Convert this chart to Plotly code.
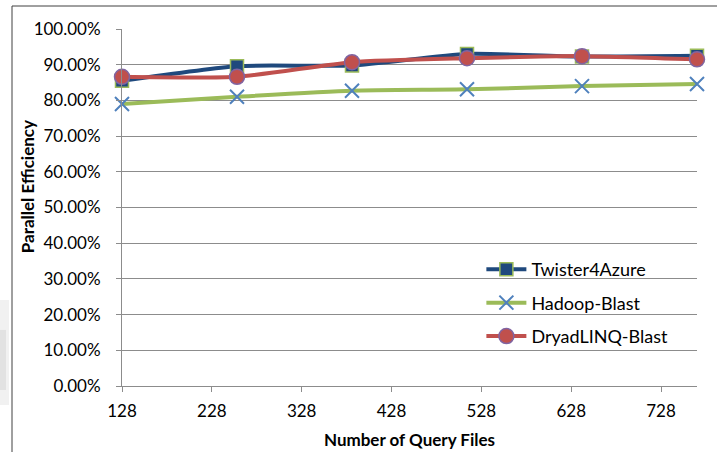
import plotly.graph_objects as go

query_files = [128, 256, 384, 512, 640, 768]
twister4azure = [0.855, 0.896, 0.898, 0.930, 0.923, 0.925]
hadoop_blast = [0.790, 0.810, 0.827, 0.831, 0.840, 0.846]
dryadlinq_blast = [0.866, 0.866, 0.907, 0.918, 0.924, 0.915]
x_ticks = [128, 228, 328, 428, 528, 628, 728]
y_ticks = [0, 0.1, 0.2, 0.3, 0.4, 0.5, 0.6, 0.7, 0.8, 0.9, 1.0]

FONT = "Lato"
FS = 17

fig = go.Figure()
fig.add_trace(go.Scatter(
    x=query_files, y=twister4azure, name="Twister4Azure", legendgroup="a",
    mode="lines+markers", line=dict(color="#1F497D", width=4, shape="spline", smoothing=0.6),
    marker=dict(symbol="square", size=13, color="#1F497D", line=dict(color="#9BBB59", width=1.5)),
    cliponaxis=False))
fig.add_trace(go.Scatter(
    x=query_files, y=hadoop_blast, name="Hadoop-Blast", legendgroup="b",
    mode="lines+markers", line=dict(color="#9BBB59", width=4, shape="spline", smoothing=0.6),
    marker=dict(symbol="x-thin", size=14, color="#4F81BD", line=dict(color="#4F81BD", width=2)),
    cliponaxis=False))
fig.add_trace(go.Scatter(
    x=query_files, y=dryadlinq_blast, name="DryadLINQ-Blast", legendgroup="c",
    mode="lines+markers", line=dict(color="#C0504D", width=4, shape="spline", smoothing=0.6),
    marker=dict(symbol="circle", size=15, color="#C0504D", line=dict(color="#8064A2", width=1.5)),
    cliponaxis=False))

fig.update_layout(
    width=717, height=452,
    margin=dict(l=122, r=20, t=29, b=66),
    paper_bgcolor="white", plot_bgcolor="white",
    font=dict(family=FONT, size=FS, color="black"),
    showlegend=True,
    legend=dict(x=0.625, y=0.378, xanchor="left", yanchor="top",
                bgcolor="rgba(0,0,0,0)", itemwidth=40, tracegroupgap=7,
                font=dict(family=FONT, size=FS + 1, color="black")),
    xaxis=dict(range=[128, 768], tickmode="array", tickvals=x_ticks,
               ticktext=[str(v) for v in x_ticks], automargin=False,
               showgrid=False, zeroline=False, showline=True, linecolor="#8C8C8C", linewidth=1,
               ticks="outside", ticklen=5, tickcolor="#8C8C8C",
               tickfont=dict(family=FONT, size=FS), ticklabelstandoff=5,
               title=dict(text="<b>Number of Query Files</b>", standoff=13,
                          font=dict(family=FONT, size=FS))),
    yaxis=dict(range=[0, 1.0], tickmode="array", tickvals=y_ticks, tickformat=".2%",
               automargin=False,
               showgrid=True, gridcolor="#8C8C8C", gridwidth=1,
               zeroline=False, showline=True, linecolor="#8C8C8C", linewidth=1,
               ticks="outside", ticklen=5, tickcolor="#8C8C8C",
               tickfont=dict(family=FONT, size=FS), ticklabelstandoff=12),
    annotations=[dict(text="<b>Parallel Efficiency</b>", xref="paper", yref="paper",
                      x=-0.1652, y=0.557, xanchor="center", yanchor="middle",
                      textangle=-90, showarrow=False,
                      font=dict(family=FONT, size=FS, color="black"))],
    shapes=[
        dict(type="rect", xref="paper", yref="paper", x0=-0.2122, y0=-0.053, x1=-0.1965, y1=0.241,
             line=dict(width=0), fillcolor="#f1f1f1", layer="below"),
        dict(type="rect", xref="paper", yref="paper", x0=-0.2122, y0=-0.0112, x1=-0.2017, y1=0.157,
             line=dict(width=0), fillcolor="#e2e2e2", layer="below"),
        dict(type="rect", xref="paper", yref="paper",
             x0=-0.1913, y0=-0.3, x1=1.1, y1=1.0644,
             line=dict(color="#404040", width=1), fillcolor="rgba(0,0,0,0)", layer="below")],
)

fig.write_html("out.html")
